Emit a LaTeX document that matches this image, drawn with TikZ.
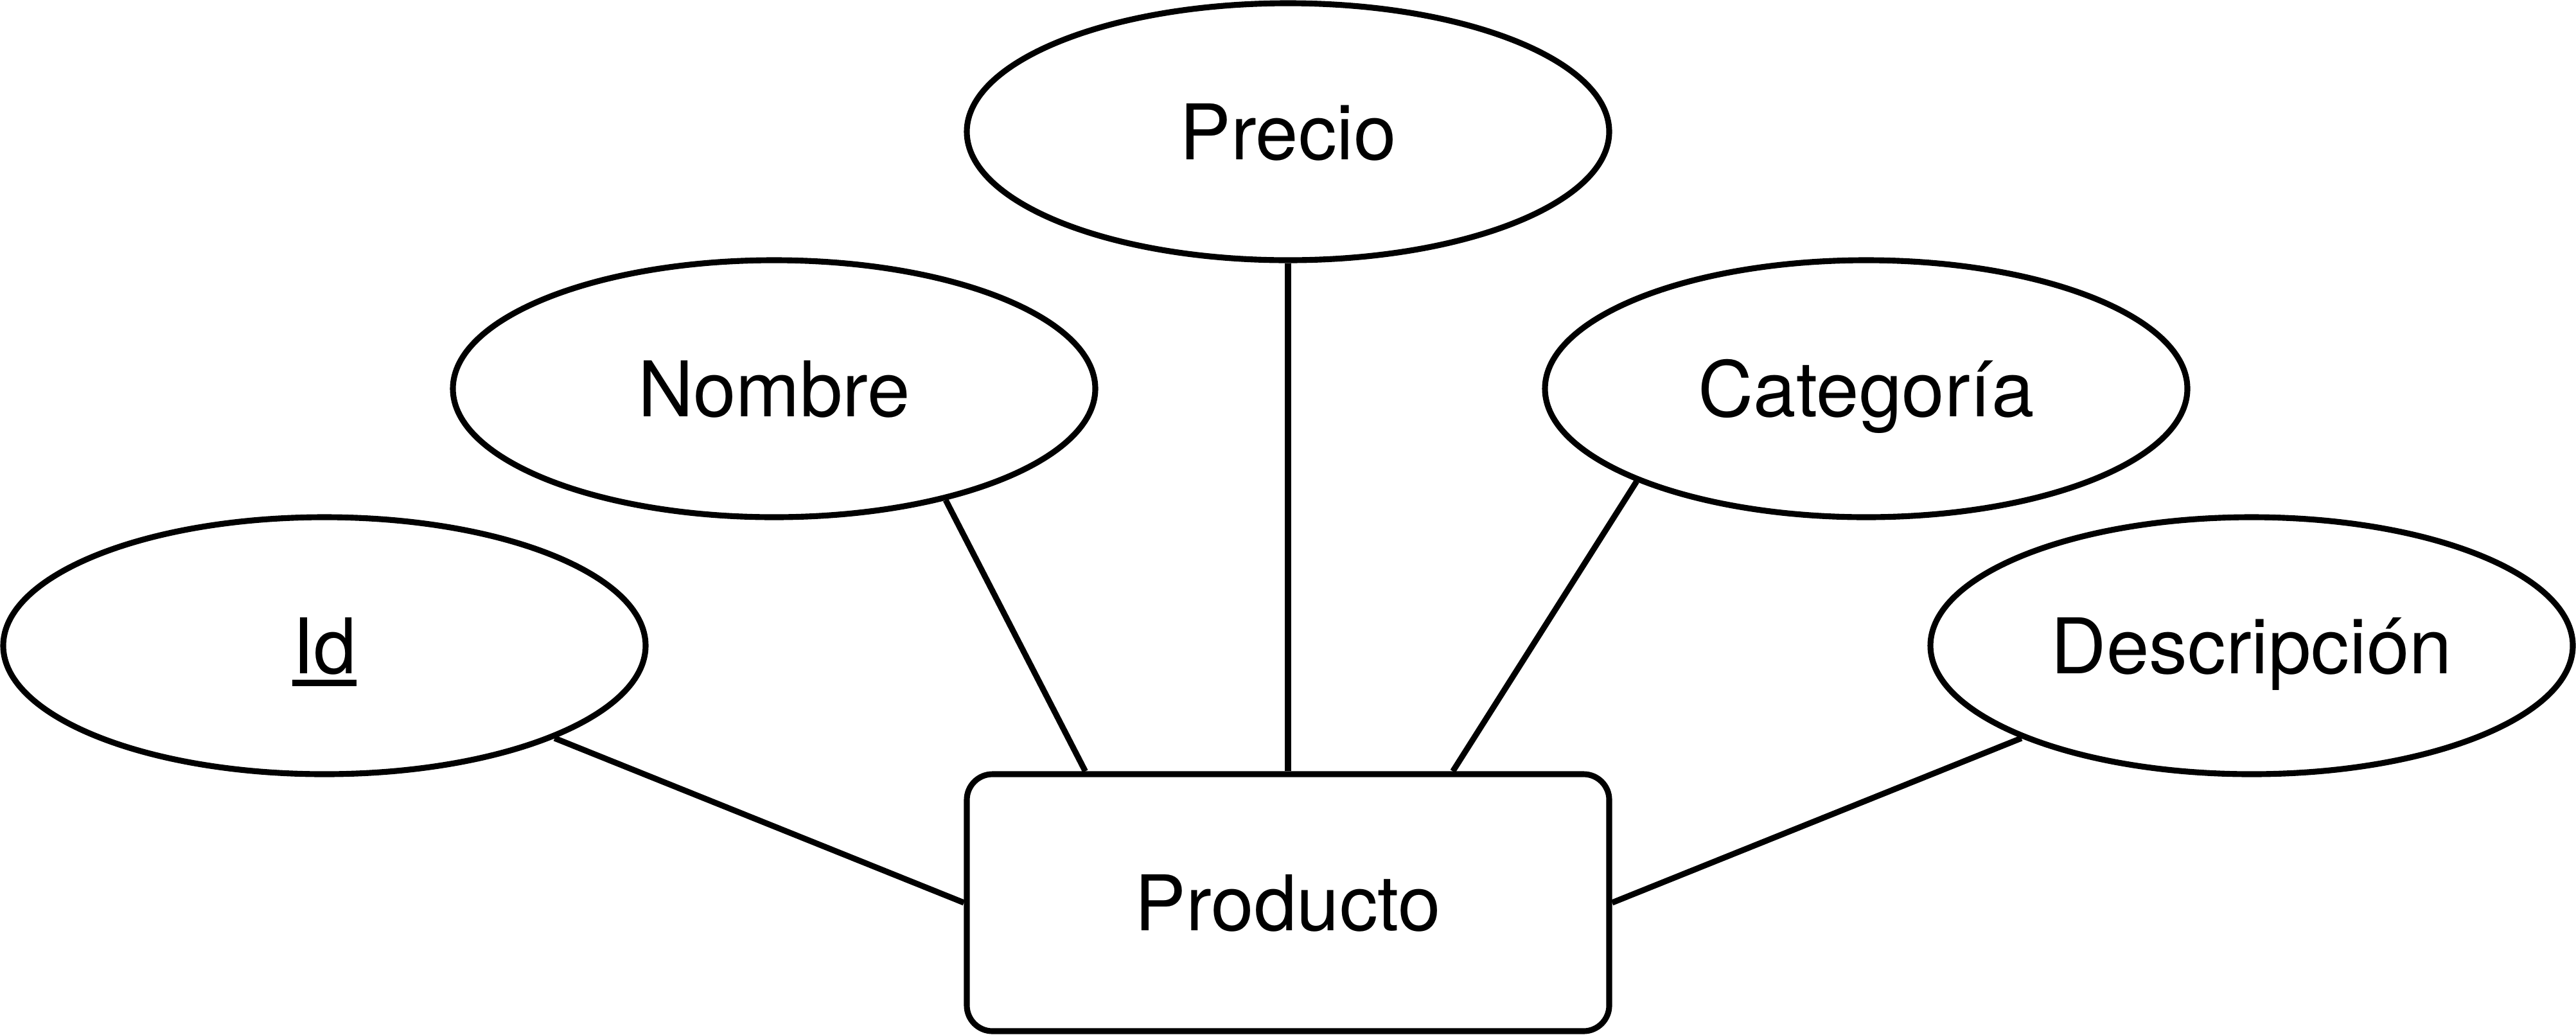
\documentclass[tikz,border=0pt]{standalone}
\usepackage{fontspec}
\setmainfont{TeX Gyre Heros}
\usetikzlibrary{shapes.geometric,positioning}
\newsavebox{\pkbox}
\newcommand{\pkey}[1]{\sbox{\pkbox}{#1}\rlap{\rule[-0.168em]{\wd\pkbox}{0.084em}}\usebox{\pkbox}}

\begin{document}
\begin{tikzpicture}[
  attr/.style={ellipse,draw,line width=2.6pt,minimum width=10cm,minimum height=4cm,inner sep=0pt,
    font=\fontsize{34}{40}\selectfont,text height=24.5pt,text depth=0pt},
  entity/.style={rectangle,draw,rounded corners=0.4cm,line width=2.6pt,minimum width=10cm,minimum height=4cm,inner sep=0pt,
    font=\fontsize{34}{40}\selectfont,text height=24.5pt,text depth=0pt},
  conn/.style={-,line width=2.6pt}]

\useasboundingbox (0,0) rectangle (40.1,-16.1);

\node [attr] (precio) at (20.05,-2.05) {Precio};
\node [attr] (nombre) at ([xshift=-8cm,yshift=-4cm]precio.center) {Nombre};
\node [attr] (categoria) at ([xshift=9cm,yshift=-4cm]precio.center) {Categoría};
\node [attr] (id) at ([xshift=-15cm,yshift=-8cm]precio.center) {\pkey{Id}};
\node [attr] (descripcion) at ([xshift=15cm,yshift=-8cm]precio.center) {Descripción};
\node [entity] (producto) at ([yshift=-12cm]precio.center) {Producto};

\draw [conn] (id) -- (producto.west);
\draw [conn] (nombre.-33) -- ([xshift=1.89cm]producto.north west);
\draw [conn] (precio) -- (producto);
\draw [conn] (categoria.202) -- ([xshift=-2.48cm]producto.north east);
\draw [conn] (descripcion) -- (producto.east);

\end{tikzpicture}
\end{document}
